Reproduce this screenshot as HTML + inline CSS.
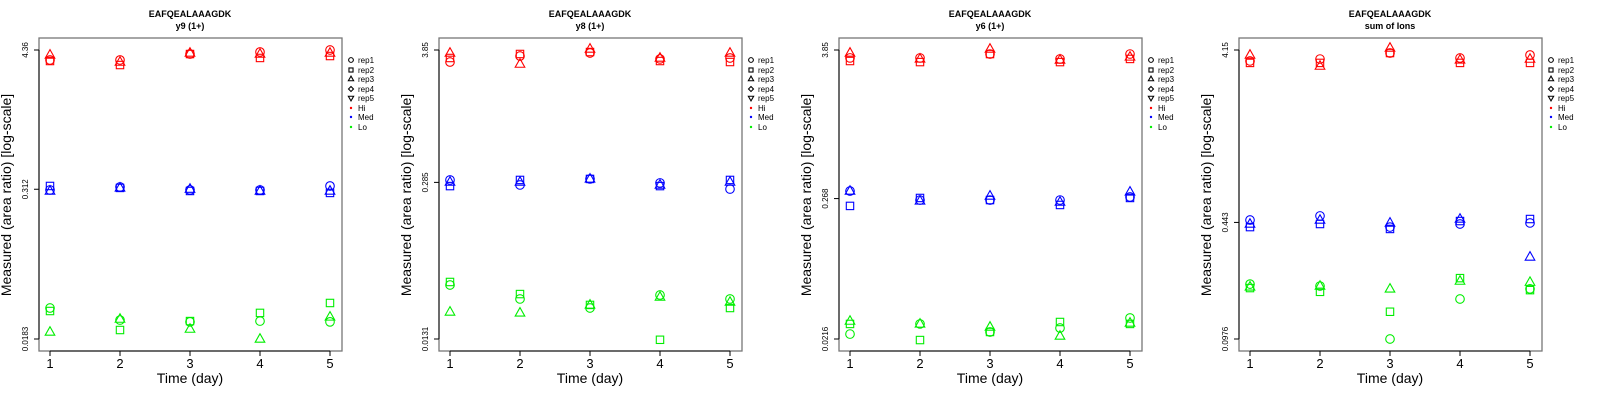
<!DOCTYPE html>
<html><head><meta charset="utf-8">
<style>
html,body{margin:0;padding:0;background:#fff;}
svg{display:block;font-family:"Liberation Sans",sans-serif;}
</style></head>
<body>
<svg id="chart" width="1600" height="400" viewBox="0 0 1600 400" xmlns="http://www.w3.org/2000/svg"></svg>
<script>
const days = [1,2,3,4,5];
const panelTitles = ["y9 (1+)","y8 (1+)","y6 (1+)","sum of Ions"];
const peptide = "EAFQEALAAAGDK";
const tickLabels = [["4.36","0.312","0.0183"],["3.85","0.285","0.0131"],["3.85","0.268","0.0216"],["4.15","0.443","0.0976"]];
const tickValues = [[4.36,0.312,0.0183],[3.85,0.285,0.0131],[3.85,0.268,0.0216],[4.15,0.443,0.0976]];
const levels = ["Hi","Med","Lo"];
const reps = ["rep1","rep2","rep3"];
const p1Hi = [[3.61,3.61,4.04,4.20,4.36],[3.54,3.28,4.04,3.75,3.89],[3.97,3.47,4.12,4.04,4.12]];
const p1Med = [[0.308,0.326,0.308,0.308,0.332],[0.332,0.320,0.302,0.302,0.291],[0.302,0.320,0.313,0.302,0.302]];
const p1Lo = [[0.0329,0.0262,0.0253,0.0257,0.0253],[0.0311,0.0217,0.0257,0.0300,0.0362],[0.0209,0.0267,0.0221,0.0183,0.0278]];
const p2Hi = [[3.04,3.42,3.63,3.23,3.29],[3.29,3.56,3.70,3.10,3.04],[3.63,2.92,3.93,3.29,3.63]];
const p2Med = [[0.299,0.271,0.305,0.282,0.250],[0.265,0.299,0.305,0.265,0.299],[0.287,0.287,0.305,0.271,0.287]];
const p2Lo = [[0.0379,0.0288,0.0241,0.0311,0.0288],[0.0402,0.0317,0.0256,0.0129,0.0241],[0.0223,0.0219,0.0256,0.0299,0.0271]];
const p3Hi = [[3.34,3.34,3.58,3.28,3.58],[3.16,3.10,3.58,3.10,3.28],[3.65,3.28,3.92,3.22,3.40]];
const p3Med = [[0.307,0.261,0.261,0.261,0.276],[0.235,0.271,0.261,0.239,0.271],[0.307,0.257,0.281,0.252,0.302]];
const p3Lo = [[0.0236,0.0283,0.0245,0.0263,0.0315],[0.0283,0.0212,0.0245,0.0293,0.0283],[0.0298,0.0283,0.0268,0.0228,0.0288]];
const p4Hi = [[3.60,3.69,3.99,3.74,3.89],[3.51,3.51,3.99,3.51,3.51],[3.89,3.37,4.26,3.65,3.69]];
const p4Med = [[0.457,0.482,0.417,0.434,0.440],[0.417,0.434,0.407,0.451,0.463],[0.434,0.457,0.440,0.463,0.283]];
const p4Lo = [[0.199,0.194,0.0976,0.164,0.187],[0.189,0.180,0.139,0.215,0.184],[0.192,0.194,0.187,0.207,0.204]];
const panelData = [[p1Hi,p1Med,p1Lo],[p2Hi,p2Med,p2Lo],[p3Hi,p3Med,p3Lo],[p4Hi,p4Med,p4Lo]];
const legendLabels = ["rep1","rep2","rep3","rep4","rep5","Hi","Med","Lo"];

const NS = "http://www.w3.org/2000/svg";
const svg = document.getElementById("chart");
const colors = ["#ff0000","#0000ff","#00ee00"];
function mk(tag, attrs, parent){const e=document.createElementNS(NS,tag);for(const k in attrs)e.setAttribute(k,attrs[k]);(parent||svg).appendChild(e);return e;}

function marker(g, shape, cx, cy, col, s){
  s=s||1;
  let e;
  if(shape===0) e=mk("circle",{cx:cx,cy:cy,r:4.3*s,fill:"none",stroke:col,"stroke-width":1.1},g);
  else if(shape===1) e=mk("rect",{x:cx-3.7*s,y:cy-3.7*s,width:7.4*s,height:7.4*s,fill:"none",stroke:col,"stroke-width":1.1},g);
  else if(shape===2) e=mk("polygon",{points:`${cx},${cy-5.3*s} ${cx-4.8*s},${cy+3.2*s} ${cx+4.8*s},${cy+3.2*s}`,fill:"none",stroke:col,"stroke-width":1.1},g);
  else if(shape===3) e=mk("polygon",{points:`${cx},${cy-4.5*s} ${cx+4.5*s},${cy} ${cx},${cy+4.5*s} ${cx-4.5*s},${cy}`,fill:"none",stroke:col,"stroke-width":1.1},g);
  else if(shape===4) e=mk("polygon",{points:`${cx},${cy+5.3*s} ${cx-4.8*s},${cy-3.2*s} ${cx+4.8*s},${cy-3.2*s}`,fill:"none",stroke:col,"stroke-width":1.1},g);
  else e=mk("circle",{cx:cx,cy:cy,r:1.2,fill:col},g);
  return e;
}

for(let p=0;p<4;p++){
  const o=400*p;
  const g=mk("g",{});
  
  
  const top=tickValues[p][0], bot=tickValues[p][2];
  const yS=v=>50+(Math.log10(top)-Math.log10(v))/(Math.log10(top)-Math.log10(bot))*289;
  const xS=d=>o+50+(d-1)*70;
  const t1=mk("text",{x:o+190,y:17,"text-anchor":"middle","font-size":9,"font-weight":"bold"},g);
  t1.textContent=peptide;
  
  
  const t2=mk("text",{x:o+190,y:29,"text-anchor":"middle","font-size":9,"font-weight":"bold"},g);
  t2.textContent=panelTitles[p];
  
  
  const box=mk("rect",{x:o+39,y:38,width:303,height:313,fill:"none",stroke:"#777","stroke-width":1.3},g);
  
  
  const ya=mk("g",{},g);
  
  
  mk("line",{x1:o+39,x2:o+39,y1:yS(tickValues[p][0]),y2:yS(tickValues[p][2]),stroke:"#000","stroke-width":1},ya);
  for(let i=0;i<3;i++){
    const y=yS(tickValues[p][i]);
    mk("line",{x1:o+34,x2:o+39,y1:y,y2:y,stroke:"#000","stroke-width":1},ya);
    const tl=mk("text",{x:o+28,y:y,"text-anchor":"middle","font-size":8,transform:`rotate(-90 ${o+28} ${y})`},ya);
    tl.textContent=tickLabels[p][i];
    
    
  }
  const yt=mk("text",{x:o+11,y:195,"text-anchor":"middle","font-size":14,transform:`rotate(-90 ${o+11} 195)`},g);
  yt.textContent="Measured (area ratio) [log-scale]";
  
  
  const xa=mk("g",{},g);
  
  
  mk("line",{x1:xS(1),x2:xS(5),y1:351,y2:351,stroke:"#000","stroke-width":1},xa);
  days.forEach(d=>{
    mk("line",{x1:xS(d),x2:xS(d),y1:351,y2:356,stroke:"#000","stroke-width":1},xa);
    const tl=mk("text",{x:xS(d),y:368,"text-anchor":"middle","font-size":13},xa);
    tl.textContent=d;
    
    
  });
  const xt=mk("text",{x:o+190,y:383,"text-anchor":"middle","font-size":14},g);
  xt.textContent="Time (day)";
  
  
  for(let l=0;l<3;l++){
    for(let r=0;r<3;r++){
      const vals=panelData[p][l][r];
      vals.forEach((v,i)=>{
        const m=marker(g,r,xS(days[i]),yS(v),colors[l]);
        
        
      });
    }
  }
  const lg=mk("g",{},g);
  
  
  const ly=[60,70,79,89,98,108,117,127];
  legendLabels.forEach((lab,i)=>{
    const col=i<5?"#000":colors[i-5];
    marker(lg,i<5?i:5,o+351,ly[i],col,0.55);
    const tx=mk("text",{x:o+358,y:ly[i]+3,"font-size":8},lg);
    tx.textContent=lab;
    
    
  });
}
</script>
</body></html>
